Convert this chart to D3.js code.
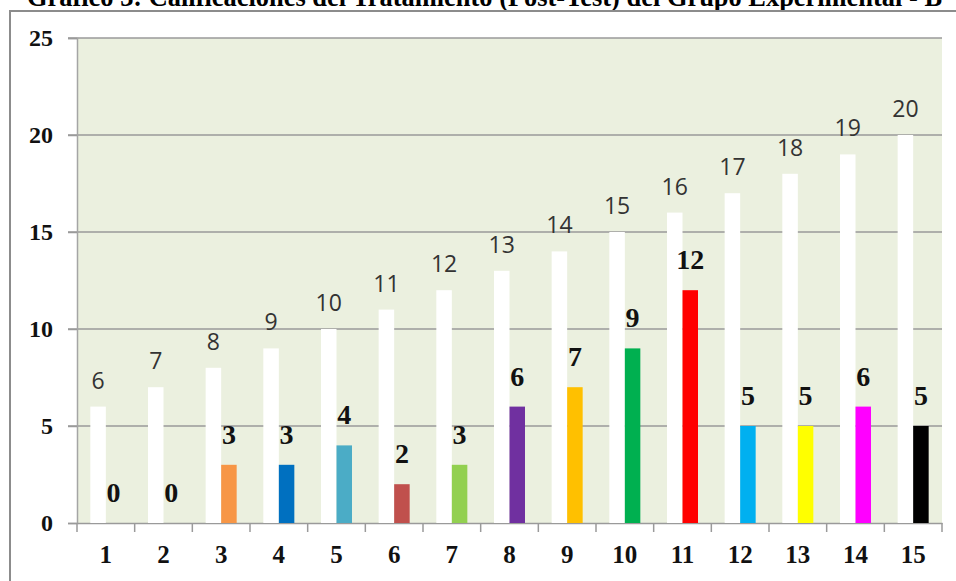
<!DOCTYPE html>
<html>
<head>
<meta charset="utf-8">
<script src="https://cdn.jsdelivr.net/npm/d3@7"></script>
<style>
  body { margin: 0; background: #fff; }
  svg { display: block; }
</style>
</head>
<body>
<svg id="chart" width="956" height="581"></svg>
<script>
const categories = ["1", "2", "3", "4", "5", "6", "7", "8", "9", "10", "11", "12", "13", "14", "15"];
const totals = [6, 7, 8, 9, 10, 11, 12, 13, 14, 15, 16, 17, 18, 19, 20];
const scores = [0, 0, 3, 3, 4, 2, 3, 6, 7, 9, 12, 5, 5, 6, 5];
const barColors = ["#F79646", "#F79646", "#F79646", "#0070C0", "#4BACC6", "#C0504D", "#92D050",
  "#7030A0", "#FFC000", "#00B050", "#FF0000", "#00B0F0", "#FFFF00", "#FF00FF", "#000000"];
const yTicks = [0, 5, 10, 15, 20, 25];
const title = "Gráfico 3: Calificaciones del Tratamiento (Post-Test) del Grupo Experimental - B";

const svg = d3.select("#chart");
const plotLeft = 77, plotRight = 942, plotTop = 38, plotBottom = 523;
const serif = "Liberation Serif, Times New Roman, serif";

const x0 = d3.scaleBand().domain(categories).range([plotLeft, plotRight]).padding(0);
const x1 = d3.scaleBand().domain(["total", "score"])
  .range([0, x0.bandwidth()]).paddingInner(0).paddingOuter(0.86);
const y = d3.scaleLinear().domain([0, 25]).range([plotBottom, plotTop]);

// title (cut off at the top like the scan)
svg.append("text")
  .attr("x", 27).attr("y", 6)
  .attr("font-family", serif)
  .attr("font-weight", "bold").attr("font-size", 26.5)
  .attr("textLength", 915).attr("lengthAdjust", "spacingAndGlyphs")
  .text(title);

// outer frame
svg.append("path")
  .attr("d", "M10,581 V11 H956")
  .attr("fill", "none").attr("stroke", "#8c8c8c").attr("stroke-width", 2);

// plot background
svg.append("rect")
  .attr("x", plotLeft).attr("y", plotTop)
  .attr("width", plotRight - plotLeft).attr("height", plotBottom - plotTop)
  .attr("fill", "#EBF0DF");

// gridlines
svg.append("g").selectAll("line")
  .data(yTicks.filter(d => d > 0))
  .enter().append("line")
  .attr("x1", plotLeft - 9).attr("x2", plotRight)
  .attr("y1", d => y(d)).attr("y2", d => y(d))
  .attr("stroke", "#9a9a9a").attr("stroke-width", 1.5);

// y axis
const yAxis = svg.append("g")
  .attr("transform", `translate(${plotLeft},0)`)
  .call(d3.axisLeft(y).tickValues(yTicks).tickSize(9).tickPadding(15));
yAxis.select(".domain").attr("stroke", "#a5a5a5").attr("stroke-width", 1.5);
yAxis.selectAll(".tick line").attr("stroke", "#9a9a9a").attr("stroke-width", 1.5);
yAxis.selectAll(".tick text")
  .attr("font-family", serif)
  .attr("font-weight", "bold").attr("font-size", 24).attr("fill", "#111");

// x axis
const xAxis = svg.append("g")
  .attr("transform", `translate(0,${plotBottom})`)
  .call(d3.axisBottom(x0).tickSize(0));
xAxis.select(".domain").attr("stroke", "#9a9a9a").attr("stroke-width", 1.5);
xAxis.selectAll(".tick text")
  .attr("y", 40).attr("dy", 0)
  .attr("font-family", serif)
  .attr("font-weight", "bold").attr("font-size", 25).attr("fill", "#111");

xAxis.selectAll(".sep")
  .data(categories.concat(["end"]))
  .enter().append("line")
  .attr("class", "sep")
  .attr("x1", (d, i) => i < categories.length ? x0(d) : plotRight)
  .attr("x2", (d, i) => i < categories.length ? x0(d) : plotRight)
  .attr("y1", 0).attr("y2", 9)
  .attr("stroke", "#9a9a9a").attr("stroke-width", 1.5);

const groups = svg.append("g").selectAll("g")
  .data(categories.map((c, i) => ({ cat: c, total: totals[i], score: scores[i], color: barColors[i] })))
  .enter().append("g")
  .attr("transform", d => `translate(${x0(d.cat)},0)`);

// white bars
groups.append("rect")
  .attr("x", x1("total")).attr("width", x1.bandwidth())
  .attr("y", d => y(d.total)).attr("height", d => y(0) - y(d.total))
  .attr("fill", "#fff");

// coloured bars
groups.append("rect")
  .attr("x", x1("score")).attr("width", x1.bandwidth())
  .attr("y", d => y(d.score)).attr("height", d => y(0) - y(d.score))
  .attr("fill", d => d.color);

// labels on white bars
groups.append("text")
  .attr("x", x1("total") + x1.bandwidth() / 2)
  .attr("y", d => y(d.total) - 18)
  .attr("text-anchor", "middle")
  .attr("font-family", "Open Sans, Liberation Sans, sans-serif")
  .attr("font-size", 23).attr("fill", "#333")
  .text(d => d.total);

// labels on coloured bars
groups.append("text")
  .attr("x", x1("score") + x1.bandwidth() / 2)
  .attr("y", d => y(d.score) - 21)
  .attr("text-anchor", "middle")
  .attr("font-family", serif)
  .attr("font-weight", "bold").attr("font-size", 28).attr("fill", "#111")
  .text(d => d.score);
</script>
</body>
</html>
